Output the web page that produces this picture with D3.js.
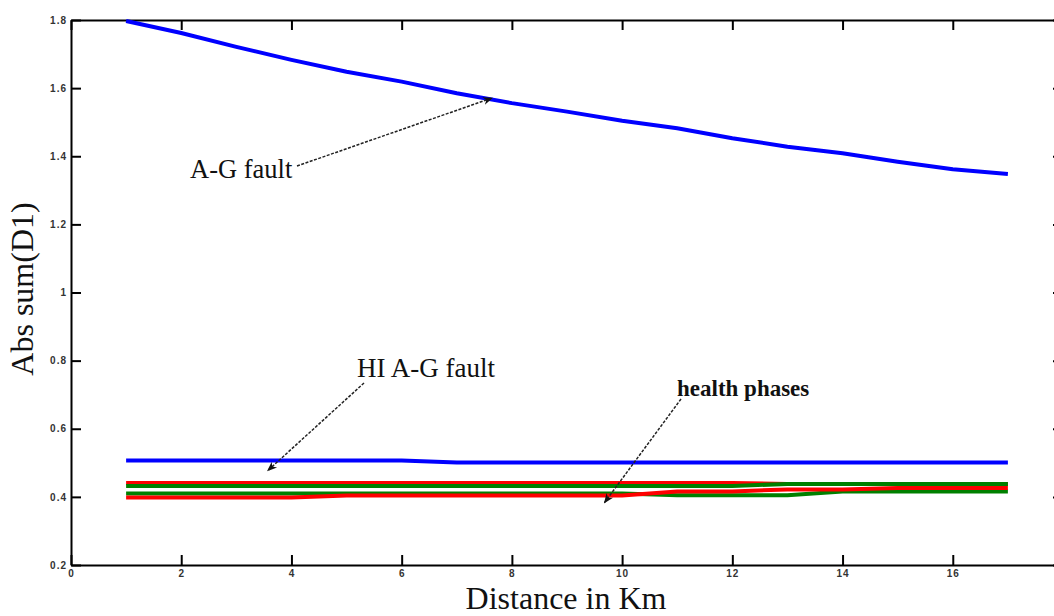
<!DOCTYPE html>
<html>
<head>
<meta charset="utf-8">
<script src="https://cdn.jsdelivr.net/npm/d3@7"></script>
<style>
  html, body { margin: 0; padding: 0; background: #fff; }
  svg { display: block; }
</style>
</head>
<body>
<svg id="chart" width="1054" height="616"></svg>
<script>
// ---- data ----
const distanceKm = [1, 2, 3, 4, 5, 6, 7, 8, 9, 10, 11, 12, 13, 14, 15, 16, 17];
const agFault    = [1.797, 1.762, 1.721, 1.683, 1.648, 1.619, 1.585, 1.556, 1.531, 1.504, 1.482, 1.453, 1.428, 1.409, 1.384, 1.362, 1.348];
const hiAgFault  = [0.507, 0.507, 0.507, 0.507, 0.507, 0.507, 0.501, 0.501, 0.501, 0.501, 0.501, 0.501, 0.501, 0.501, 0.501, 0.501, 0.501];
const healthRedA   = [0.441, 0.441, 0.441, 0.441, 0.441, 0.441, 0.441, 0.441, 0.441, 0.441, 0.441, 0.441, 0.438, 0.438, 0.438, 0.438, 0.438];
const healthGreenA = [0.432, 0.432, 0.432, 0.432, 0.432, 0.432, 0.432, 0.432, 0.432, 0.432, 0.432, 0.432, 0.438, 0.438, 0.438, 0.438, 0.438];
const healthGreenB = [0.410, 0.410, 0.410, 0.410, 0.410, 0.410, 0.410, 0.410, 0.410, 0.410, 0.405, 0.405, 0.405, 0.416, 0.416, 0.416, 0.416];
const healthRedB   = [0.398, 0.398, 0.398, 0.398, 0.404, 0.404, 0.404, 0.404, 0.404, 0.404, 0.416, 0.416, 0.422, 0.422, 0.426, 0.426, 0.426];
const xTicks = [0, 2, 4, 6, 8, 10, 12, 14, 16];
const yTicks = [0.2, 0.4, 0.6, 0.8, 1, 1.2, 1.4, 1.6, 1.8];
const xDomain = [0, 18];
const yDomain = [0.2, 1.8];

const series = [
  { name: "A-G fault", values: agFault, color: "#0000ff" },
  { name: "HI A-G fault", values: hiAgFault, color: "#0000ff" },
  { name: "health red A", values: healthRedA, color: "#ff0000" },
  { name: "health green A", values: healthGreenA, color: "#008000" },
  { name: "health green B", values: healthGreenB, color: "#008000" },
  { name: "health red B", values: healthRedB, color: "#ff0000" }
];

// ---- layout ----
const svg = d3.select("#chart");
const plotLeft = 71, plotRight = 1063, plotTop = 20, plotBottom = 565;

svg.append("rect").attr("width", 1054).attr("height", 616).attr("fill", "#fff");

const x = d3.scaleLinear().domain(xDomain).range([plotLeft, plotRight]);
const y = d3.scaleLinear().domain(yDomain).range([plotBottom, plotTop]);

const fmt = d => String(d);

function styleAxis(g) {
  g.select(".domain").attr("stroke", "#000").attr("stroke-width", 2);
  g.selectAll(".tick line").attr("stroke", "#000").attr("stroke-width", 2);
  g.selectAll(".tick text")
    .attr("fill", "#333")
    .style("font-family", "'Liberation Sans', Arial, sans-serif")
    .style("font-size", "10px")
    .style("font-weight", "bold")
    .style("letter-spacing", "1px");
}

svg.append("g").attr("transform", `translate(0,${plotBottom})`)
  .call(d3.axisBottom(x).tickValues(xTicks).tickFormat(fmt).tickSizeInner(-10).tickSizeOuter(0).tickPadding(5))
  .call(styleAxis);
svg.append("g").attr("transform", `translate(0,${plotTop})`)
  .call(d3.axisTop(x).tickValues(xTicks).tickFormat("").tickSizeInner(-10).tickSizeOuter(0))
  .call(styleAxis);
svg.append("g").attr("transform", `translate(${plotLeft},0)`)
  .call(d3.axisLeft(y).tickValues(yTicks).tickFormat(fmt).tickSizeInner(-10).tickSizeOuter(0).tickPadding(4))
  .call(styleAxis);
svg.append("g").attr("transform", `translate(${plotRight},0)`)
  .call(d3.axisRight(y).tickValues(yTicks).tickFormat("").tickSizeInner(-10).tickSizeOuter(0))
  .call(styleAxis);

// ---- lines ----
const line = d3.line().x((d, i) => x(distanceKm[i])).y(d => y(d));
svg.append("g").selectAll("path").data(series).join("path")
  .attr("d", s => line(s.values))
  .attr("fill", "none")
  .attr("stroke", s => s.color)
  .attr("stroke-width", 4)
  .attr("stroke-linejoin", "round");

// ---- axis labels ----
svg.append("text")
  .attr("x", x(9) - 1).attr("y", 609)
  .attr("text-anchor", "middle")
  .style("font-family", "'Liberation Serif', 'Times New Roman', serif")
  .style("font-size", "32px")
  .attr("fill", "#111")
  .text("Distance in Km");

svg.append("text")
  .attr("transform", `translate(33,289) rotate(-90)`)
  .attr("text-anchor", "middle")
  .style("font-family", "'Liberation Serif', 'Times New Roman', serif")
  .style("font-size", "32px")
  .attr("fill", "#111")
  .text("Abs sum(D1)");

// ---- annotations ----
const defs = svg.append("defs");
defs.append("marker")
  .attr("id", "arrow")
  .attr("viewBox", "0 0 10 10")
  .attr("refX", 9).attr("refY", 5)
  .attr("markerWidth", 10).attr("markerHeight", 10)
  .attr("markerUnits", "userSpaceOnUse")
  .attr("orient", "auto")
  .append("path")
  .attr("d", "M0,1 L10,5 L0,9 L3,5 Z")
  .attr("fill", "#111");

const annotations = [
  { text: "A-G fault", tx: 190, ty: 178, size: 26.5, weight: "normal", from: [297, 166], to: [7.64, 1.571] },
  { text: "HI A-G fault", tx: 357, ty: 377, size: 27, weight: "normal", from: [364, 383], to: [3.57, 0.477] },
  { text: "health phases", tx: 677, ty: 396, size: 23, weight: "bold", from: [681, 399], to: [9.68, 0.383] }
];

annotations.forEach(a => {
  svg.append("line")
    .attr("x1", a.from[0]).attr("y1", a.from[1])
    .attr("x2", x(a.to[0])).attr("y2", y(a.to[1]))
    .attr("stroke", "#222")
    .attr("stroke-width", 1.5)
    .attr("stroke-dasharray", "3,1.5")
    .attr("marker-end", "url(#arrow)");
  svg.append("text")
    .attr("x", a.tx).attr("y", a.ty)
    .style("font-family", "'Liberation Serif', 'Times New Roman', serif")
    .style("font-size", a.size + "px")
    .style("font-weight", a.weight)
    .attr("fill", "#111")
    .text(a.text);
});
</script>
</body>
</html>
